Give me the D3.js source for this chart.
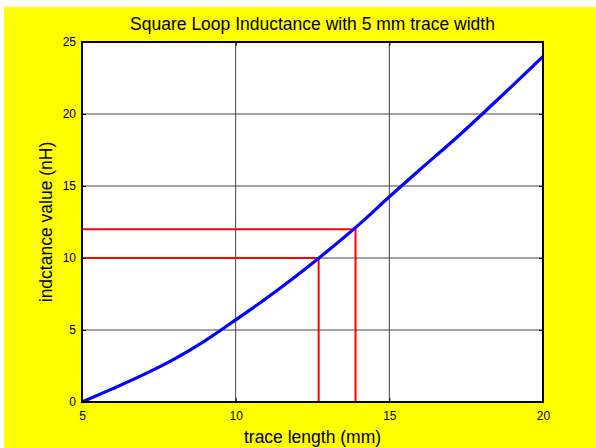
<!DOCTYPE html>
<html>
<head>
<meta charset="utf-8">
<script src="https://cdn.jsdelivr.net/npm/d3@7"></script>
<style>
  body { margin: 0; background: #fff; }
  text { font-family: "Liberation Sans", Arial, sans-serif; fill: #000; }
</style>
</head>
<body>
<script>
// trace length (mm) and inductance (nH)
const traceLength = [5, 6, 7, 8, 9, 10, 11, 12, 13, 14, 15, 16, 17, 18, 19, 20];
const inductance  = [0, 0.93, 1.9, 2.98, 4.25, 5.7, 7.2, 8.8, 10.5, 12.3, 14.25, 16.15, 18.0, 19.95, 21.95, 24.0];

// red guides: where they meet the curve
const guideX = [12.7, 13.9];
const guideY = [10, 12];

const xTicks = [5, 10, 15, 20];
const yTicks = [0, 5, 10, 15, 20, 25];

const titleText = "Square Loop Inductance with 5 mm trace width";
const xLabel = "trace length (mm)";
const yLabel = "indctance value (nH)";

const W = 596, H = 448;
const margin = {top: 42, right: 53, bottom: 46, left: 82},
    width = W - margin.left - margin.right,
    height = H - margin.top - margin.bottom;

const svg = d3.select("body").append("svg")
    .attr("width", W)
    .attr("height", H);

// yellow figure background
svg.append("rect")
    .attr("x", 4).attr("y", 7)
    .attr("width", W - 4).attr("height", H - 7)
    .attr("fill", "#ffff00");

const g = svg.append("g")
    .attr("transform", "translate(" + margin.left + "," + margin.top + ")");

const x = d3.scaleLinear().domain([5, 20]).range([0, width]);
const y = d3.scaleLinear().domain([0, 25]).range([height, 0]);

// plot area
g.append("rect")
    .attr("width", width).attr("height", height)
    .attr("fill", "#fff");

// grid
g.selectAll(".vgrid")
    .data(xTicks.slice(1, -1))
    .join("line")
    .attr("x1", d => x(d)).attr("x2", d => x(d))
    .attr("y1", 0).attr("y2", height)
    .attr("stroke", "#444").attr("stroke-width", 1);
g.selectAll(".hgrid")
    .data(yTicks.slice(1, -1))
    .join("line")
    .attr("y1", d => y(d)).attr("y2", d => y(d))
    .attr("x1", 0).attr("x2", width)
    .attr("stroke", "#444").attr("stroke-width", 1);

// red guide lines
guideX.forEach((gx, i) => {
    g.append("path")
        .attr("d", d3.line()([[x(5), y(guideY[i])], [x(gx), y(guideY[i])], [x(gx), y(0)]]))
        .attr("fill", "none")
        .attr("stroke", "#ff0000")
        .attr("stroke-width", 2);
});

// curve
const pts = traceLength.map((t, i) => [t, inductance[i]]);
g.append("path")
    .datum(pts)
    .attr("fill", "none")
    .attr("stroke", "#0000ff")
    .attr("stroke-width", 3.2)
    .attr("stroke-linejoin", "round")
    .attr("d", d3.line()
        .x(d => x(d[0]))
        .y(d => y(d[1]))
        .curve(d3.curveMonotoneX));

// axes (ticks inside)
g.append("g")
    .attr("transform", "translate(0," + height + ")")
    .call(d3.axisBottom(x).tickValues(xTicks).tickSize(-4).tickPadding(9));
g.append("g")
    .call(d3.axisLeft(y).tickValues(yTicks).tickSize(-4).tickPadding(6));
g.append("g")
    .call(d3.axisTop(x).tickValues(xTicks).tickSize(-4).tickFormat(""));
g.append("g")
    .attr("transform", "translate(" + width + ",0)")
    .call(d3.axisRight(y).tickValues(yTicks).tickSize(-4).tickFormat(""));

g.selectAll(".domain").remove();
g.selectAll(".tick line").attr("stroke", "#000");
g.selectAll(".tick text")
    .attr("font-size", 12)
    .style("font-size", "12px")
    .style("font-family", "'Liberation Sans', Arial, sans-serif");

// box
g.append("rect")
    .attr("width", width).attr("height", height)
    .attr("fill", "none")
    .attr("stroke", "#000").attr("stroke-width", 2);

// labels
svg.append("text")
    .attr("x", margin.left + width / 2).attr("y", 30)
    .attr("text-anchor", "middle")
    .style("font-size", "17.5px")
    .text(titleText);

svg.append("text")
    .attr("x", margin.left + width / 2).attr("y", 443)
    .attr("text-anchor", "middle")
    .style("font-size", "17.5px")
    .text(xLabel);

svg.append("text")
    .attr("transform", "translate(52," + (margin.top + height / 2) + ") rotate(-90)")
    .attr("text-anchor", "middle")
    .style("font-size", "17.5px")
    .text(yLabel);
</script>
</body>
</html>
